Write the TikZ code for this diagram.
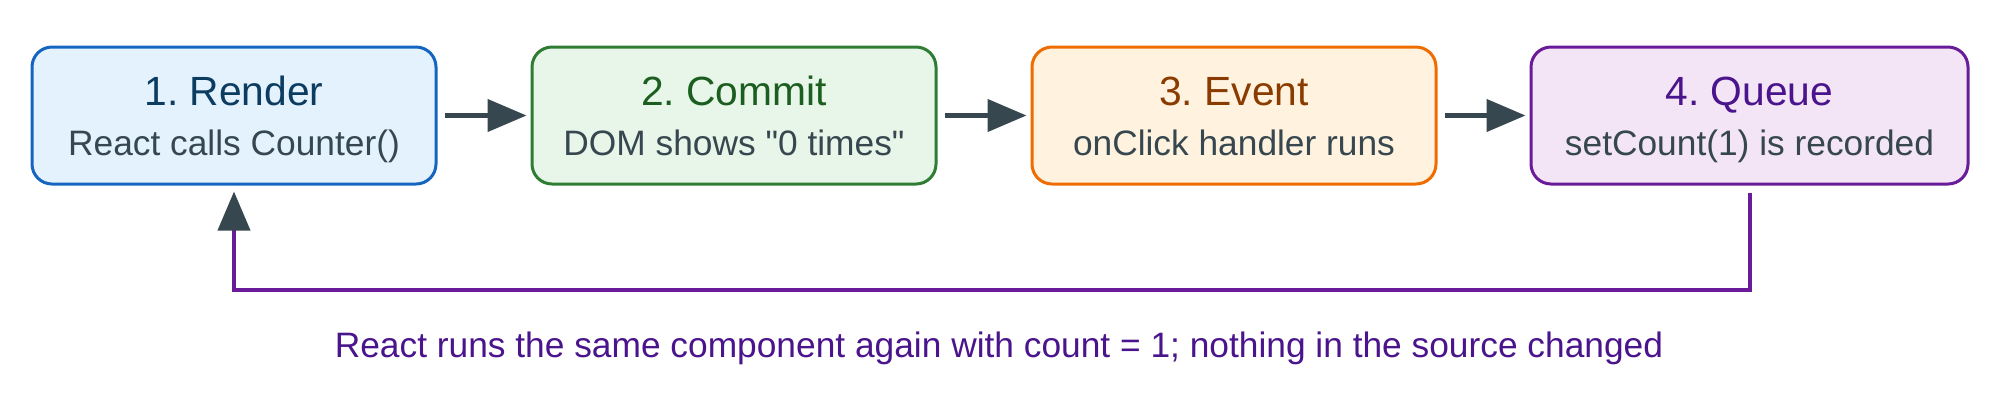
\documentclass[tikz,border=0pt]{standalone}
\usepackage{fontspec}
\setmainfont{Liberation Sans}
\usepackage{xcolor}
\definecolor{rfill}{HTML}{E3F2FD}
\definecolor{rline}{HTML}{1565C0}
\definecolor{rtext}{HTML}{0D3C61}
\definecolor{cfill}{HTML}{E8F5E9}
\definecolor{cline}{HTML}{2E7D32}
\definecolor{ctext}{HTML}{1B5E20}
\definecolor{efill}{HTML}{FFF3E0}
\definecolor{eline}{HTML}{EF6C00}
\definecolor{etext}{HTML}{8A3B00}
\definecolor{qfill}{HTML}{F3E5F5}
\definecolor{qline}{HTML}{6A1B9A}
\definecolor{qtext}{HTML}{4A148C}
\definecolor{mgray}{HTML}{37474F}
\usepackage{tikz}
\usetikzlibrary{arrows.meta}
\frenchspacing

\begin{document}
\begin{tikzpicture}[
    box/.style={draw, rounded corners=0.2cm, line width=0.03cm, minimum width=4.04cm, minimum height=1.37cm},
    title/.style={anchor=base, font=\fontsize{11.6}{14}\selectfont},
    sub/.style={anchor=base, text=mgray, font=\fontsize{10.05}{12}\selectfont},
    flow/.style={mgray, line width=0.045cm, -{Triangle[length=0.39cm, width=0.32cm]}, shorten <=0.07cm, shorten >=0.04cm},
    back/.style={qline, line width=0.04cm, miter limit=10, -{Triangle[length=0.39cm, width=0.32cm, color=mgray]}, shorten <=0.07cm, shorten >=0.06cm}
]
        \useasboundingbox (0, 0) rectangle (20, 4.03);
        \node[box, fill=rfill, draw=rline] (r) at (2.34, 2.875) {};
        \node[box, fill=cfill, draw=cline] (c) at (7.34, 2.875) {};
        \node[box, fill=efill, draw=eline] (e) at (12.34, 2.875) {};
        \node[box, fill=qfill, draw=qline, minimum width=4.37cm] (q) at (17.495, 2.875) {};

        \node[title, rtext] (rt) at ([yshift=1.05mm]r.center) {1. Render};
        \node[sub] (rs) at ([yshift=-3.95mm]r.center) {React calls Counter()};
        \node[title, ctext] (ct) at ([yshift=1.05mm]c.center) {2. Commit};
        \node[sub] (cs) at ([yshift=-3.95mm]c.center) {DOM shows \textquotedbl 0 times\textquotedbl};
        \node[title, etext] (et) at ([yshift=1.05mm]e.center) {3. Event};
        \node[sub] (es) at ([yshift=-3.95mm]e.center) {onClick handler runs};
        \node[title, qtext] (qt) at ([yshift=1.05mm]q.center) {4. Queue};
        \node[sub] (qs) at ([yshift=-3.95mm]q.center) {setCount(1) is recorded};

        \draw[flow] (r) -- (c);
        \draw[flow] (c) -- (e);
        \draw[flow] (e) -- (q);

        % back to render
        \coordinate (fb) at (2.34, 1.13);
        \draw[back] (q.south) |- (fb) -- (r.south);
        \node[anchor=base, text=qtext, font=\fontsize{10.05}{12}\selectfont] (note) at (9.99, 0.457) {React runs the same component again with count = 1; nothing in the source changed};
    \end{tikzpicture}
\end{document}
